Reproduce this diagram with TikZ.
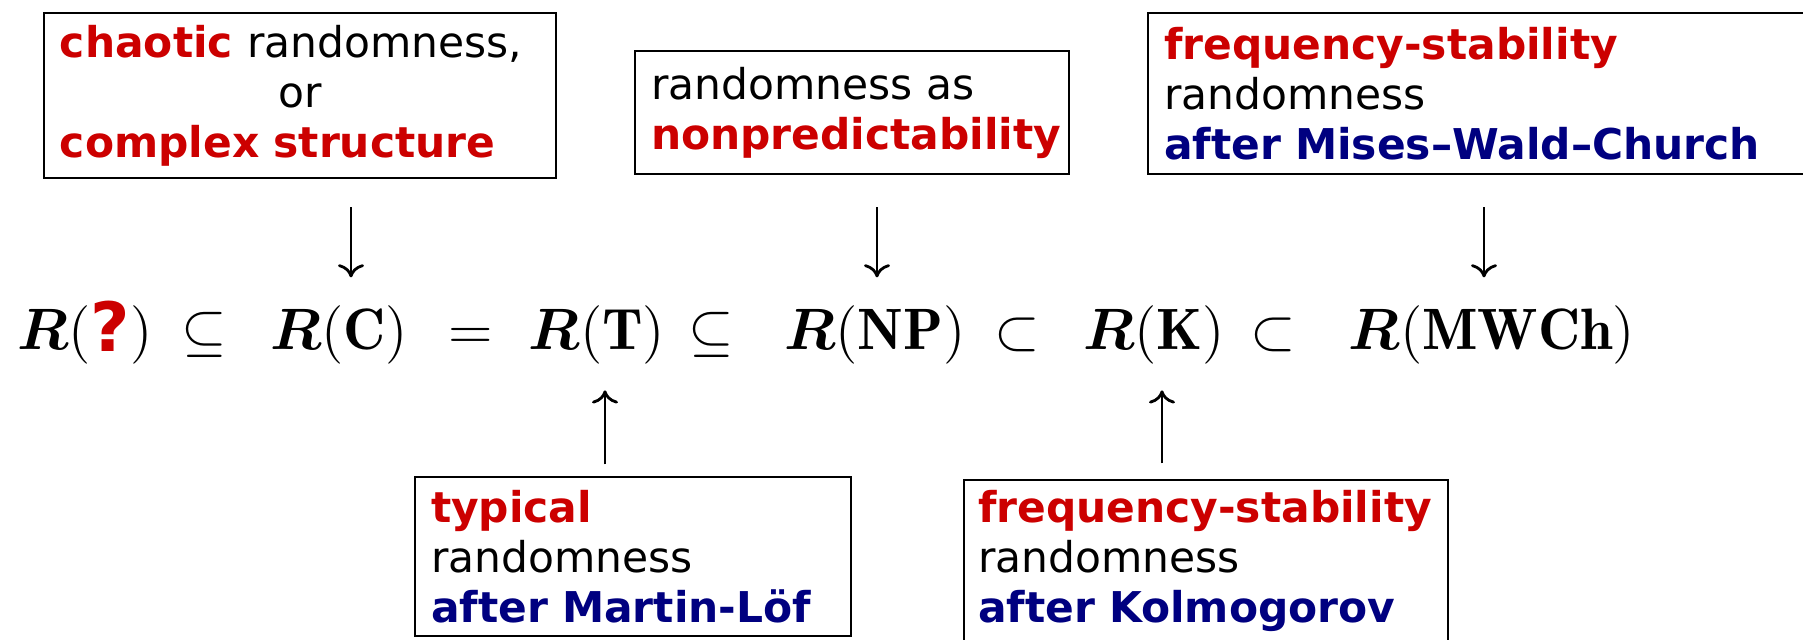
\RequirePackage{fix-cm}
\documentclass[tikz,border=0pt]{standalone}
\usepackage{amsmath}
\usepackage{fontspec}
\newfontfamily\boxfont[Ligatures=TeX]{DejaVu Sans}
\usetikzlibrary{positioning, arrows.meta}
\definecolor{KeyRed}{HTML}{CC0000}
\definecolor{NameBlue}{HTML}{000080}
\newcommand{\keyword}[1]{\mbox{\bfseries\color{KeyRed}#1}}
\newcommand{\person}[1]{\mbox{\bfseries\color{NameBlue}#1}}

\begin{document}
\begin{tikzpicture}[x=0.25pt, y=-0.25pt,
        box/.style   = {rectangle, draw, line width=0.5pt, inner xsep=4pt, inner ysep=0pt,
                        align=left, font=\boxfont\fontsize{10.6}{12.5}\selectfont},
        term/.style  = {inner sep=0pt, anchor=base, font=\fontsize{14.6}{17}\selectfont},
        arrow/.style = {draw, line width=0.7pt, -{Computer Modern Rightarrow[length=3.3pt, width=6.5pt]}}
    ]
    \useasboundingbox (0,0) rectangle (1803,640);
    \clip (0,0) rectangle (1803,640);

    % --- the chain of inclusions ---
    \node[term] (termQ)  at (85,350)   {$\boldsymbol{R}(\text{\raisebox{-0.5pt}{\boxfont\bfseries\fontsize{17}{17}\selectfont\color{KeyRed}?}})$};
    \node[term] (sub1)   at (204,350)  {$\subseteq$};
    \node[term] (termC)  at (339,350)  {$\boldsymbol{R}(\mathbf{C})$};
    \node[term] (eq)     at (471,350)  {$=$};
    \node[term] (termT)  at (597,350)  {$\boldsymbol{R}(\mathbf{T})$};
    \node[term] (sub2)   at (711,350)  {$\subseteq$};
    \node[term] (termNP) at (875,350)  {$\boldsymbol{R}(\mathbf{NP})$};
    \node[term] (sub3)   at (1017,350) {$\subset$};
    \node[term] (termK)  at (1154,350) {$\boldsymbol{R}(\mathbf{K})$};
    \node[term] (sub4)   at (1273,350) {$\subset$};
    \node[term] (termMWCh) at (1492,350) {$\boldsymbol{R}(\mathbf{MWCh})$};

    % --- upper boxes ---
    \node[box, text width=120pt, minimum height=41.25pt] (chaos) at (300,96)
        {\keyword{chaotic} randomness,\\ \makebox[\linewidth]{or}\\ \keyword{complex structure}};
    \node[box, text width=100.5pt, minimum height=30.75pt] (nonpred) at (852,113)
        {randomness as\\ \keyword{nonpredictability}};
    \node[box, text width=160pt, minimum height=40.25pt] (mwc) at (1484,94)
        {\keyword{frequency-stability}\\ randomness\\ \person{after Mises--Wald--Church}};

    % --- lower boxes ---
    \node[box, text width=101pt, minimum height=39.75pt] (mlof) at (633,557)
        {\keyword{typical}\\ randomness\\ \person{after Martin-Löf}};
    \node[box, inner xsep=3.5pt, text width=114pt, minimum height=40.25pt] (kolm) at (1206,561)
        {\keyword{frequency-stability}\\ randomness\\ \person{after Kolmogorov}};

    % Arrows
    \draw[arrow, shorten <=7pt, shorten >=7pt] ([xshift=3pt]termC.north |- chaos.south) -- ([xshift=3pt]termC.north);
    \draw[arrow, shorten <=8pt, shorten >=7pt] ([xshift=0.5pt]termNP.north |- nonpred.south) -- ([xshift=0.5pt]termNP.north);
    \draw[arrow, shorten <=8pt, shorten >=7pt] ([xshift=-2pt]termMWCh.north |- mwc.south) -- ([xshift=-2pt]termMWCh.north);
    \draw[arrow, shorten <=3pt, shorten >=6.25pt] ([xshift=2pt]termT.south |- mlof.north) -- ([xshift=2pt]termT.south);
    \draw[arrow, shorten <=4pt, shorten >=6.25pt] ([xshift=2pt]termK.south |- kolm.north) -- ([xshift=2pt]termK.south);
\end{tikzpicture}
\end{document}
